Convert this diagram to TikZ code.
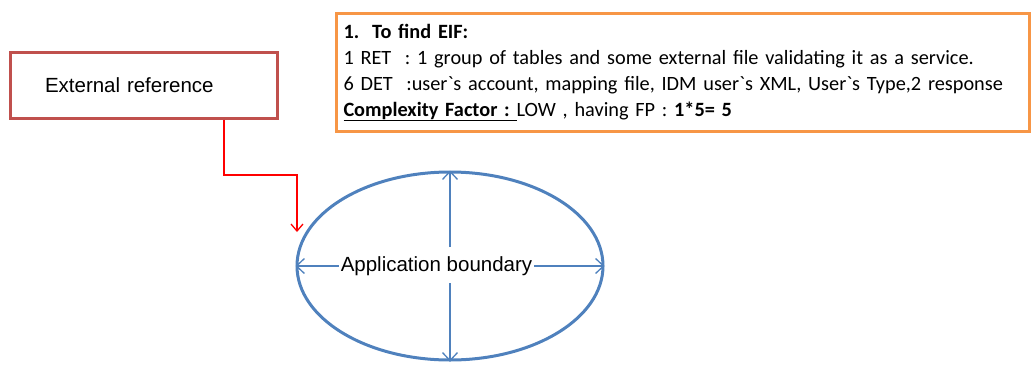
\documentclass[tikz,border=0pt]{standalone}
\usepackage{fontspec}
\setmainfont{Liberation Sans}
\newfontfamily\notefont{Carlito}[Ligatures=TeXOff, WordSpace=0.75]
\usetikzlibrary{shapes.geometric,arrows.meta}

\definecolor{refred}{HTML}{C0504D}
\definecolor{noteorange}{HTML}{F79646}
\definecolor{appblue}{HTML}{4F81BD}

\tikzset{%
  ref box/.style={
    rectangle,
    draw=refred,
    line width=3pt,
    minimum width=267pt,
    minimum height=66pt,
    text width=197pt,
    inner xsep=35pt,
    align=left,
    font=\fontsize{20.5}{24}\selectfont
  },
  note box/.style={
    rectangle,
    draw=noteorange,
    line width=3pt,
    minimum width=693pt,
    minimum height=118pt,
    text width=679pt,
    inner xsep=7pt,
    align=left,
    font=\notefont\fontsize{20.3}{26}\selectfont
  },
  boundary/.style={
    ellipse,
    draw=appblue,
    line width=3pt,
    minimum width=306pt,
    minimum height=188pt,
    inner sep=0pt
  },
  span/.style={
    draw=appblue,
    line width=1.3pt,
    -{Straight Barb[length=8pt,width=15pt]}
  },
  feed/.style={
    draw=red,
    line width=1.3pt,
    -{Straight Barb[length=7pt,width=12pt]}
  },
}

\begin{document}
\begin{tikzpicture}[x=1pt, y=-1pt]

\useasboundingbox (0,0) rectangle (1033,370);

% Kasten und Ellipse
\node [ref box] (ext-ref) at (143.5,85) {External reference};

\node [note box, anchor=north west] (eif-box) at (335,12)
  {\textbf{1.\hspace{13pt}To find EIF:}\\
   1 RET\ \ : 1 group of tables and some external file validating it as a service.\\
   6 DET\ \ :user`s account, mapping file, IDM user`s XML, User`s Type,2 response\\
   \underline{\textbf{Complexity Factor :}\ }LOW , having FP : \textbf{1*5= 5}};

\node [boundary] (app) at (450,266) {};

\node [font=\fontsize{20.5}{24}\selectfont, inner sep=2pt] (app-label) at (436.5,266) {Application boundary};

\coordinate (tip) at (297,232);


% Verbindung
\draw [feed] ([xshift=80.5pt]ext-ref.south) |- ([yshift=57pt]tip) -- (tip);


% Pfeile in der Ellipse
\draw [span] (app-label.west) -- (app.west);
\draw [span] (app-label.east) -- (app.east);
\draw [span] ([yshift=19pt]app.center) -- (app.north);
\draw [span] ([yshift=-17pt]app.center) -- (app.south);

\end{tikzpicture}
\end{document}
